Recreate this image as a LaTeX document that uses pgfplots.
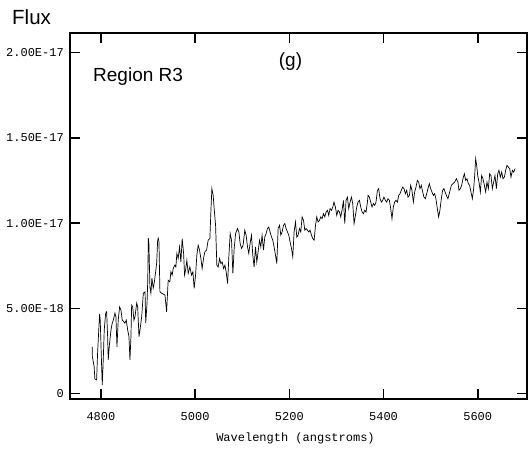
\documentclass[border=0pt]{standalone}
\usepackage{pgfplots}
\pgfplotsset{compat=1.18}
\usepackage{pgfplotstable}
\usepackage{fontspec}
\setmainfont{Liberation Sans}
\newfontfamily\monofont{Liberation Mono}
% flux in units of 1e-18
\pgfplotstableread{
w f
4781.4 2.75
4781.8 2.17
4785.6 1.58
4787.1 0.86
4790.8 0.81
4792.9 2.38
4795.7 3.92
4797.2 4.67
4798.5 4.31
4801.5 1.58
4802.8 0.51
4804.9 1.98
4807.0 3.73
4810.0 4.72
4812.1 4.80
4814.2 3.34
4815.5 1.98
4817.6 2.75
4821.3 3.73
4824.0 4.14
4826.2 4.31
4829.7 4.72
4831.8 4.51
4834.0 2.75
4836.7 4.31
4839.7 5.09
4842.5 4.90
4845.3 4.31
4848.3 4.22
4851.0 4.14
4853.8 4.31
4856.8 3.73
4859.5 3.34
4861.6 1.98
4863.7 3.34
4865.2 5.19
4867.4 5.09
4870.1 4.31
4872.3 4.51
4875.9 5.31
4878.0 5.09
4880.8 3.34
4882.9 3.73
4886.5 4.51
4890.0 5.89
4893.6 5.97
4895.1 4.14
4897.9 5.31
4899.4 6.65
4900.6 9.11
4901.8 8.82
4904.0 6.26
4906.1 5.89
4908.2 6.77
4911.0 6.19
4913.1 6.48
4916.1 7.14
4918.3 7.65
4920.4 8.99
4921.7 9.11
4923.2 8.89
4925.2 5.97
4928.8 5.89
4935.9 5.78
4939.4 4.80
4941.5 5.97
4942.8 6.65
4946.3 6.55
4948.5 7.14
4951.2 6.95
4953.4 7.34
4957.0 7.53
4959.1 7.43
4961.2 8.22
4963.9 7.92
4966.9 8.60
4969.7 7.72
4972.5 9.09
4975.5 8.22
4977.6 6.95
4979.6 7.24
4982.4 7.82
4985.2 7.05
4988.8 7.43
4992.4 6.95
4995.2 7.14
4998.0 6.17
5000.9 6.95
5003.6 8.12
5006.4 8.70
5009.4 8.41
5012.2 7.92
5014.9 7.34
5017.8 7.92
5020.6 8.31
5024.2 8.41
5027.6 8.99
5031.3 9.09
5033.4 10.65
5035.5 12.02
5038.3 11.62
5040.4 10.85
5043.4 9.87
5046.1 7.53
5048.9 7.43
5051.9 7.92
5054.6 7.63
5057.4 7.72
5060.4 7.34
5063.2 7.53
5065.9 7.14
5068.9 6.46
5071.7 8.11
5074.4 9.38
5077.3 8.99
5080.1 7.05
5082.9 8.51
5085.9 9.38
5089.8 9.68
5092.8 9.48
5095.6 8.80
5098.6 8.51
5101.8 8.70
5105.4 9.58
5108.2 9.29
5111.2 8.60
5113.9 8.22
5116.6 8.80
5119.6 9.29
5122.4 8.12
5125.2 7.43
5128.2 8.60
5130.9 7.72
5133.7 8.31
5136.6 8.99
5139.4 8.60
5142.1 9.29
5145.1 8.41
5147.9 9.19
5150.6 9.38
5153.5 9.68
5156.3 9.77
5159.1 9.48
5162.1 9.19
5164.9 8.99
5167.6 8.60
5170.6 8.12
5173.4 7.63
5176.2 9.68
5179.2 9.87
5181.9 9.29
5184.6 9.48
5187.6 9.87
5190.4 9.97
5193.1 9.68
5196.0 9.48
5198.8 9.29
5201.6 8.89
5204.6 8.51
5207.3 8.02
5210.1 9.48
5213.1 10.06
5215.9 9.17
5218.6 9.29
5221.5 9.68
5224.3 9.48
5227.1 10.36
5230.1 10.16
5232.8 9.58
5235.6 9.68
5238.5 9.58
5241.3 9.48
5244.0 9.58
5247.0 9.29
5249.8 9.09
5252.6 8.99
5255.6 9.87
5258.2 10.36
5261.0 10.06
5264.0 10.16
5266.8 10.36
5269.5 10.26
5272.5 10.55
5275.3 10.36
5278.0 10.65
5281.0 10.75
5283.7 10.45
5286.5 10.85
5289.5 10.75
5292.3 10.94
5294.8 11.23
5297.8 10.94
5300.6 10.45
5303.4 10.75
5306.4 10.65
5309.1 10.36
5311.9 10.75
5314.9 11.33
5317.7 9.97
5320.4 11.33
5323.3 11.52
5326.1 10.85
5328.9 11.23
5331.9 11.52
5334.6 11.14
5337.4 9.97
5340.3 10.45
5343.1 10.94
5345.8 11.23
5348.8 11.33
5351.6 10.94
5354.4 10.65
5357.3 10.55
5360.1 10.75
5362.8 10.65
5365.8 11.23
5367.1 11.62
5370.0 11.52
5372.8 11.23
5375.5 10.94
5378.5 11.14
5381.3 11.04
5384.0 11.23
5387.0 11.92
5389.7 12.02
5392.5 11.43
5395.5 11.23
5398.2 11.33
5400.9 11.52
5403.9 11.33
5406.7 11.23
5409.4 11.43
5412.4 11.33
5415.2 10.85
5417.9 10.26
5420.8 10.94
5423.6 11.23
5426.4 11.33
5429.4 11.23
5432.2 11.62
5434.9 11.72
5437.8 11.92
5440.6 12.11
5443.4 12.02
5446.4 11.72
5449.1 11.92
5451.9 11.52
5454.9 11.62
5457.6 12.21
5460.3 11.92
5463.3 11.23
5466.1 11.82
5468.9 12.11
5471.8 12.50
5474.5 12.40
5477.3 12.02
5480.3 12.21
5483.1 11.82
5485.8 11.52
5488.8 11.43
5491.6 11.72
5494.3 12.02
5497.2 12.31
5500.0 12.02
5502.8 11.82
5505.8 11.62
5508.5 11.72
5511.2 11.43
5514.2 10.85
5517.0 10.36
5519.7 10.75
5522.7 11.43
5525.5 11.92
5528.2 12.02
5533.3 11.62
5536.7 11.43
5540.4 11.82
5544.0 12.21
5547.4 12.31
5551.0 12.40
5554.6 12.60
5558.0 12.40
5560.1 11.92
5563.1 12.02
5565.9 12.21
5568.6 12.60
5571.6 12.89
5574.4 12.50
5577.2 12.60
5580.0 12.31
5582.8 12.21
5585.6 11.82
5588.6 11.43
5591.4 12.02
5593.5 12.79
5595.6 13.77
5597.8 13.38
5599.9 12.79
5602.7 12.40
5605.6 11.82
5608.3 12.79
5611.1 12.60
5614.1 12.21
5616.9 11.82
5619.6 12.40
5622.6 12.02
5625.3 12.89
5628.1 12.79
5631.0 12.02
5633.8 12.40
5636.6 12.79
5639.6 12.02
5642.4 12.89
5645.1 13.09
5648.1 12.69
5650.8 12.99
5653.6 12.60
5656.5 12.69
5659.3 13.09
5662.1 13.38
5665.1 13.28
5667.9 13.19
5670.6 12.69
5673.6 13.09
5676.4 12.99
5679.2 13.19
}\spec
\begin{document}
\begin{tikzpicture}
\path[use as bounding box] (-70pt,-53pt) rectangle (458pt,399pt);
\begin{axis}[
  at={(0pt,0pt)}, anchor=south west,
  scale only axis,
  width=457pt, height=366pt,
  xmin=4734.3, xmax=5704.6,
  ymin=-0.311, ymax=21.14,
  axis line style={line width=1.6pt},
  tick align=inside,
  major tick length=10pt,
  tick style={line width=1.6pt, black},
  xtick={4800,5000,5200,5400,5600},
  xticklabels={4800,5000,5200,5400,5600},
  ytick={0,5,10,15,20},
  yticklabels={0,5.00E-18,1.00E-17,1.50E-17,2.00E-17},
  xtick pos=both, ytick pos=both,
  /pgf/number format/assume math mode=true,
  xticklabel style={font=\monofont\fontsize{12}{13}\selectfont, anchor=north, inner sep=0pt, yshift=-13pt},
  yticklabel style={font=\monofont\fontsize{12}{13}\selectfont, anchor=east, inner sep=0pt, xshift=-6pt},
  clip=true,
]
\addplot[black, line width=0.7pt, mark=none] table[x=w, y=f] {\spec};
\end{axis}
\node[anchor=west, inner sep=0pt, font=\fontsize{20.5}{22}\selectfont] at (-58pt,382pt) {Flux};
\node[anchor=west, inner sep=0pt, font=\fontsize{19}{21}\selectfont] at (23pt,322pt) {Region R3};
\node[inner sep=0pt, font=\fontsize{19}{21}\selectfont] at (220.5pt,337pt) {(g)};
\node[inner sep=0pt, font=\monofont\fontsize{12}{13}\selectfont] at (225.5pt,-39pt) {Wavelength (angstroms)};
\end{tikzpicture}
\end{document}
